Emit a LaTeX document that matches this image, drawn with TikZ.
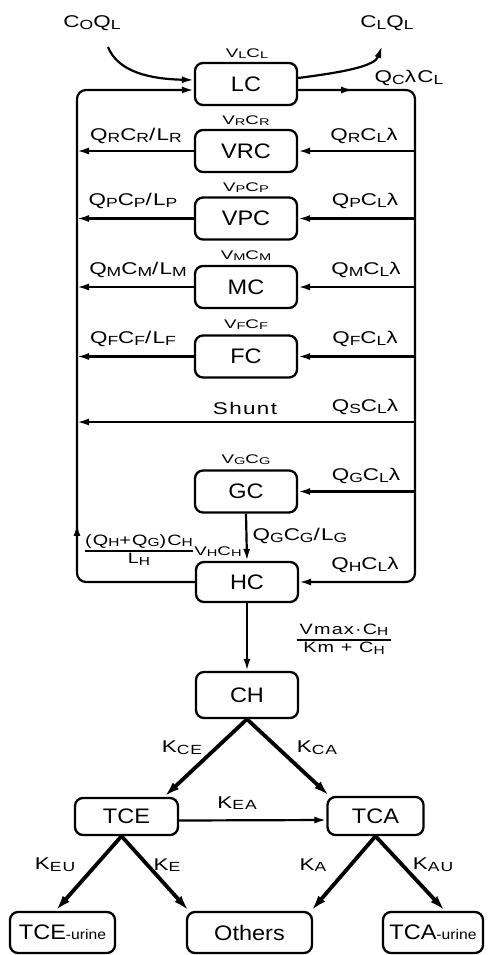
\documentclass[tikz,border=0pt]{standalone}
\usepackage{fontspec}
\setmainfont[FakeStretch=1.32,LetterSpace=8]{Liberation Sans}
\newfontfamily\boxfont[FakeStretch=1.12]{Liberation Sans}
\newfontfamily\vfont[FakeStretch=1.5,LetterSpace=6]{Liberation Sans}
\usetikzlibrary{arrows.meta,calc,decorations.markings}
\newcommand\lo[1]{\raisebox{-0.1em}{\scalebox{0.78}{#1}}}
\newcommand\smallpart[1]{{\fontsize{14}{16}\selectfont #1}}
\tikzset{
  box/.style={draw, rounded corners=8pt, line width=2.3pt, minimum width=102pt,
    minimum height=42pt, inner sep=0pt, font=\boxfont\fontsize{21}{24}\selectfont},
  tip/.style={-{Latex[length=12pt,width=7pt]}},
  flow/.style={line width=2.2pt, tip},
  bigflow/.style={line width=3.8pt, -{Latex[length=16pt,width=9pt]}},
  lab/.style={font=\fontsize{17}{19}\selectfont, inner sep=0pt},
  fraclab/.style={font=\fontsize{15}{17}\selectfont, inner sep=0pt},
  vlab/.style={font=\vfont\fontsize{12.5}{14}\selectfont, inner sep=0pt},
  midarrow/.style={postaction={decorate}, decoration={markings,
    mark=at position #1 with {\arrow{Latex[length=12pt,width=7pt]}}}},
}
\begin{document}
\begin{tikzpicture}[x=1pt,y=-1pt]
\useasboundingbox (0,0) rectangle (489,955);

% rails
\coordinate (L) at (77,90);
\coordinate (R) at (415,90);
\coordinate (Sr) at (415,422);
\coordinate (inS) at (108,47);
\coordinate (outE) at (382,46);

% boxes
\node[box] (LC) at (246,84) {LC};
\node[box] (VRC) at (246,151) {VRC};
\node[box] (VPC) at (246,218.5) {VPC};
\node[box] (MC) at (246,287) {MC};
\node[box] (FC) at (246,356.5) {FC};
\node[box] (GC) at (246,491.5) {GC};
\node[box, minimum height=40pt] (HC) at (247,582) {HC};
\node[box, minimum height=46pt] (CH) at (247,695) {CH};
\node[box, minimum width=103pt, minimum height=37pt] (TCE) at (126.5,816.5) {TCE};
\node[box, minimum width=96pt, minimum height=38pt] (TCA) at (375.5,816) {TCA};
\node[box, minimum width=105pt, minimum height=41pt] (TCEu) at (62.5,932.5) {TCE\smallpart{-urine}};
\node[box, minimum width=125pt, minimum height=41pt] (Oth) at (249.5,932.5) {Others};
\node[box, minimum width=100pt, minimum height=41pt] (TCAu) at (433,932.5) {TCA\smallpart{-urine}};

% input / output of LC
\draw[flow] (inS) .. controls (118,72) and (150,79) .. ($(LC.west)+(0,-4)$);
\draw[flow] ($(LC.east)+(0,-6)$) .. controls (345,72) and (375,66) .. (outE);

% loop rails
\draw[line width=2.2pt, rounded corners=9pt, midarrow=172pt, tip]
  (HC.west) -- (HC.west -| L) -- (L) -- ($(LC.west)+(0,6)$);
\draw[line width=2.2pt, rounded corners=9pt, midarrow=55pt, tip]
  ($(LC.east)+(0,6)$) -- (R) -- (HC.east -| R) -- (HC.east);

% organ rows
\foreach \n in {VRC,VPC,MC,FC}{
  \draw[flow] (\n.east -| R) -- (\n.east);
  \draw[flow] (\n.west) -- (\n.west -| L);
}
\draw[flow] (Sr) -- (Sr -| L);
\draw[flow] (GC.east -| R) -- (GC.east);
\draw[flow] (GC.south) -- (HC.north);
\draw[flow] (HC.south) -- (CH.north);

% metabolism tree
\draw[bigflow] (CH.south) -- ([xshift=-15pt]TCE.north east);
\draw[bigflow] (CH.south) -- ([xshift=3pt]TCA.north west);
\draw[flow] ($(TCE.east)+(0,4)$) -- ($(TCA.west)+(0,4)$);
\draw[bigflow] ([xshift=-5pt]TCE.south) -- ([xshift=-7pt]TCEu.north);
\draw[bigflow] ([xshift=-5pt]TCE.south) -- ([xshift=3pt]Oth.north west);
\draw[bigflow] (TCA.south) -- ([xshift=-2pt]Oth.north east);
\draw[bigflow] (TCA.south) -- ([xshift=12pt]TCAu.north);

% labels
\node[lab] at (92,23) {C\lo{O}Q\lo{L}};
\node[lab] at (387,23) {C\lo{L}Q\lo{L}};
\node[lab] at (409,78) {Q\lo{C}λC\lo{L}};
\node[vlab] at (247,54) {V\lo{L}C\lo{L}};
\node[vlab] at (246,121) {V\lo{R}C\lo{R}};
\node[vlab] at (246,188) {V\lo{P}C\lo{P}};
\node[vlab] at (246,256) {V\lo{M}C\lo{M}};
\node[vlab] at (246,325) {V\lo{F}C\lo{F}};
\node[vlab] at (246,460) {V\lo{G}C\lo{G}};
\node[vlab] at (218,552) {V\lo{H}C\lo{H}};

\node[lab] at (136,136) {Q\lo{R}C\lo{R}/L\lo{R}};
\node[lab] at (364,136) {Q\lo{R}C\lo{L}λ};
\node[lab] at (133,201) {Q\lo{P}C\lo{P}/L\lo{P}};
\node[lab] at (365,201) {Q\lo{P}C\lo{L}λ};
\node[lab] at (138,270) {Q\lo{M}C\lo{M}/L\lo{M}};
\node[lab] at (366,270) {Q\lo{M}C\lo{L}λ};
\node[lab] at (133,339) {Q\lo{F}C\lo{F}/L\lo{F}};
\node[lab] at (365,339) {Q\lo{F}C\lo{L}λ};
\node[lab] at (245,408) {Shunt};
\node[lab] at (365,407) {Q\lo{S}C\lo{L}λ};
\node[lab] at (366,476) {Q\lo{G}C\lo{L}λ};
\node[lab] at (300,536) {Q\lo{G}C\lo{G}/L\lo{G}};
\node[lab] at (365,565) {Q\lo{H}C\lo{L}λ};

\node[fraclab] at (139,551) {\setlength{\arrayrulewidth}{1.3pt}\setlength{\tabcolsep}{0pt}\renewcommand{\arraystretch}{1.0}%
  \begin{tabular}{c}(Q\lo{H}+Q\lo{G})C\lo{H}\\\hline L\lo{H}\end{tabular}};
\node[fraclab] at (344,640) {\setlength{\arrayrulewidth}{1.3pt}\setlength{\tabcolsep}{3pt}\renewcommand{\arraystretch}{1.0}%
  \begin{tabular}{c}Vmax·C\lo{H}\\\hline Km + C\lo{H}\end{tabular}};

\node[lab] at (182,748) {K\lo{CE}};
\node[lab] at (317,748) {K\lo{CA}};
\node[lab] at (237,803) {K\lo{EA}};
\node[lab] at (55,865) {K\lo{EU}};
\node[lab] at (167,865) {K\lo{E}};
\node[lab] at (313,865) {K\lo{A}};
\node[lab] at (433,865) {K\lo{AU}};
\end{tikzpicture}
\end{document}
